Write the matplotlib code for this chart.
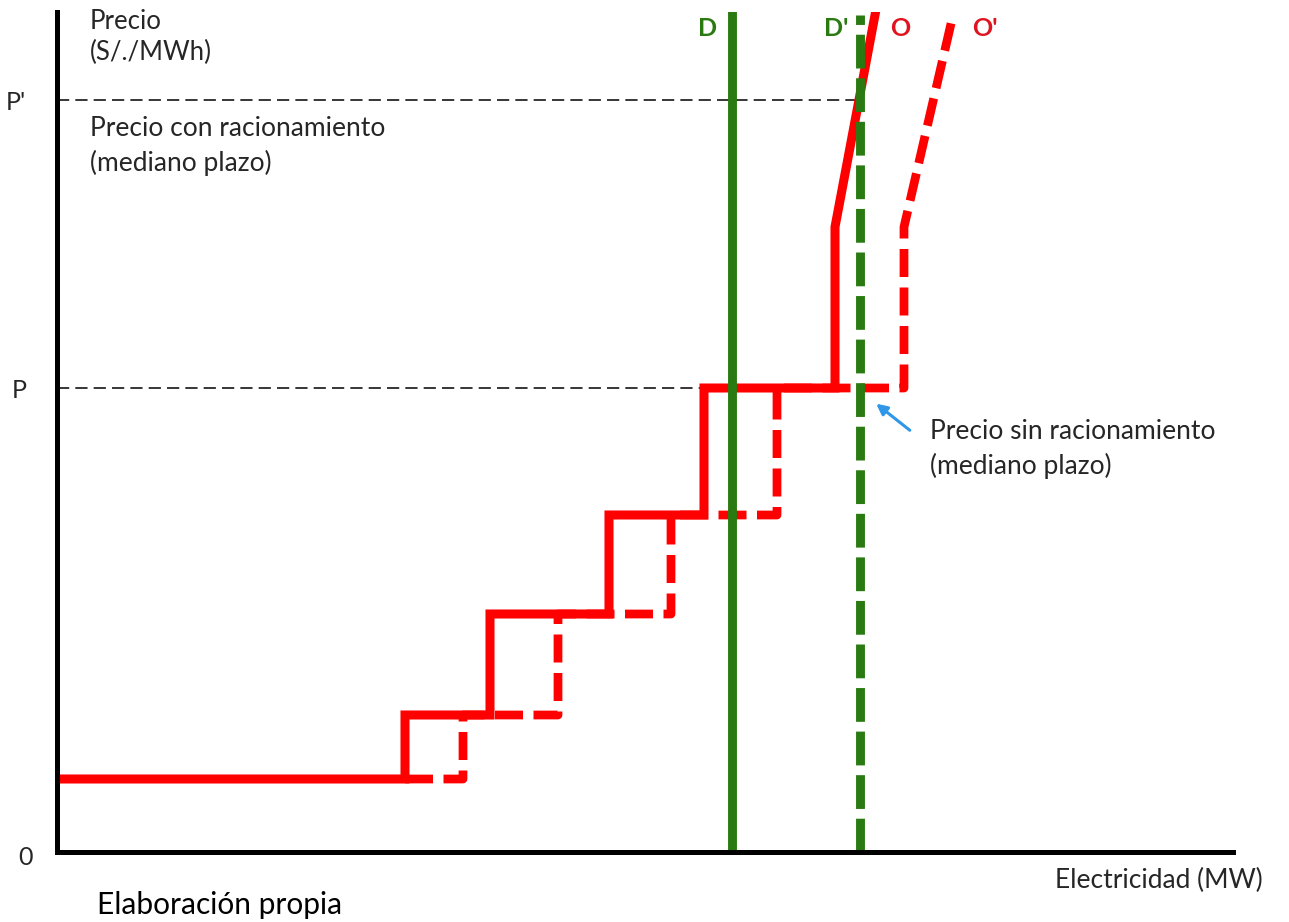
import matplotlib.pyplot as plt

plt.rcParams['font.family'] = ['Lato', 'DejaVu Sans']

# supply O (solid) and shifted supply O' (dashed): step vertices (quantity, price)
o_q = [0, 348, 348, 433, 433, 552, 552, 647, 647, 778, 778, 818]
o_p = [73, 73, 137, 137, 238, 238, 337, 337, 464, 464, 625, 837]
o2_q = [348, 406, 406, 501, 501, 614, 614, 720, 720, 847, 847, 896]
o2_p = [73, 73, 137, 137, 238, 238, 337, 337, 464, 464, 625, 837]

# demand D and D' (vertical)
d_q = 675
d2_q = 803
demand_top = 837

# prices
p_sin = 464
p_con = 752

RED = '#ff0000'
GREEN = '#2a7a12'
TXT = '#262626'

fig = plt.figure(figsize=(12.89, 9.22), dpi=100)
ax = fig.add_axes([57 / 1289, 70 / 922, 1176 / 1289, 840 / 922])
ax.set_xlim(0, 1176)
ax.set_ylim(0, 840)

for s in ['top', 'right']:
    ax.spines[s].set_visible(False)
for s in ['left', 'bottom']:
    ax.spines[s].set_linewidth(3.6)
ax.set_xticks([])
ax.set_yticks([p_sin, p_con], ['P', "P'"], fontsize=18, color=TXT)
ax.tick_params(axis='y', length=0, pad=22)

# reference price lines
ax.plot([0, d2_q - 5], [p_con, p_con], color='black', lw=1.1, ls=(0, (8, 4)))
ax.plot([0, o_q[7]], [p_sin, p_sin], color='black', lw=1.1, ls=(0, (8, 4)))

# supply curves
ax.plot(o2_q, o2_p, color=RED, lw=6.3, ls=(0, (3.2, 1.2)), solid_capstyle='butt')
ax.plot(o_q, o_p, color=RED, lw=6.5, solid_joinstyle='miter')

# demand curves
ax.plot([d_q, d_q], [0, demand_top], color=GREEN, lw=6.4)
ax.plot([d2_q, d2_q], [0, demand_top], color=GREEN, lw=6.4, ls=(0, (3.8, 1.1)))

# curve labels
ax.text(d_q - 24, 823, 'D', color=GREEN, fontsize=18, fontweight='bold', ha='center', va='center')
ax.text(d2_q - 24, 823, "D'", color=GREEN, fontsize=18, fontweight='bold', ha='center', va='center')
ax.text(d2_q + 40, 823, 'O', color='#e0141e', fontsize=18, fontweight='bold', ha='center', va='center')
ax.text(d2_q + 125, 823, "O'", color='#e0141e', fontsize=18, fontweight='bold', ha='center', va='center')

# annotations
ax.text(33, 815, 'Precio\n(S/./MWh)', fontsize=18.5, color=TXT, va='center', linespacing=1.3)
ax.text(33, 706, 'Precio con racionamiento\n(mediano plazo)', fontsize=19, color=TXT,
        va='center', linespacing=1.4)
ax.text(873, 403, 'Precio sin racionamiento\n(mediano plazo)', fontsize=19, color=TXT,
        va='center', linespacing=1.4)
ax.annotate('', xy=(817, 450), xytext=(855, 420),
            arrowprops=dict(arrowstyle='-|>', color='#2f96e8', lw=2.2, mutation_scale=16))

ax.text(-39, -5, '0', fontsize=18, color=TXT, va='center', clip_on=False)
ax.text(1206, -28, 'Electricidad (MW)', fontsize=19, color=TXT, ha='right', va='center')
ax.text(40, -53, 'Elaboración propia', fontsize=21.5, color='black', va='center')

fig.savefig('out.png', dpi=100)
